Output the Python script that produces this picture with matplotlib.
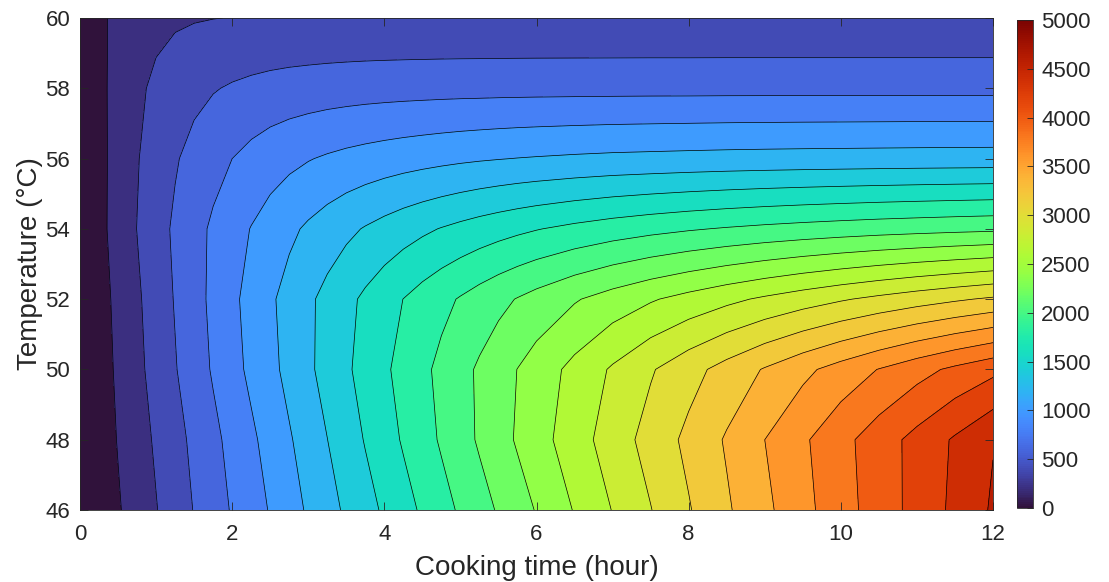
import numpy as np
import matplotlib
matplotlib.use("Agg")
import matplotlib.pyplot as plt
from matplotlib.colors import Normalize
from matplotlib.cm import ScalarMappable

plt.rcParams['font.family'] = ['Liberation Sans', 'DejaVu Sans']

# ---- data ----
t_hours = [0, 0.25, 0.5, 0.75, 1, 1.25, 1.5, 1.75, 2, 2.25, 2.5, 2.75, 3,
           3.25, 3.5, 3.75, 4, 4.25, 4.5, 4.75, 5, 5.25, 5.5, 5.75, 6,
           6.5, 7, 7.5, 8, 8.5, 9, 9.5, 10, 10.5, 11, 11.5, 12]
temps = [46, 48, 50, 52, 54, 56, 58, 60]

v46 = [0, 85, 182, 285, 391, 500, 608, 712, 816, 915, 1013, 1119, 1225,
       1328, 1431, 1530, 1628, 1728, 1828, 1928, 2027, 2123, 2219, 2316, 2412,
       2612, 2807, 2993, 3185, 3374, 3554, 3740, 3919, 4093, 4267, 4444, 4625]
v48 = [0, 100, 209, 317, 426, 535, 643, 751, 858, 964, 1070, 1180, 1289,
       1398, 1506, 1612, 1717, 1820, 1922, 2023, 2124, 2224, 2324, 2421, 2517,
       2708, 2895, 3074, 3248, 3421, 3600, 3769, 3939, 4103, 4263, 4425, 4590]
v50 = [0, 114, 229, 351, 471, 588, 705, 820, 935, 1042, 1147, 1256, 1365,
       1468, 1570, 1670, 1768, 1863, 1956, 2048, 2138, 2228, 2316, 2403, 2488,
       2658, 2825, 2981, 3129, 3274, 3416, 3551, 3681, 3807, 3928, 4043, 4150]
v52 = [0, 122, 248, 370, 494, 612, 728, 844, 958, 1066, 1170, 1270, 1365,
       1458, 1548, 1637, 1722, 1802, 1877, 1948, 2016, 2083, 2148, 2210, 2270,
       2382, 2485, 2580, 2668, 2752, 2832, 2908, 2980, 3048, 3113, 3173, 3230]
v54 = [0, 143, 278, 403, 521, 631, 735, 831, 922, 1007, 1086, 1160, 1230,
       1295, 1357, 1414, 1467, 1518, 1565, 1609, 1650, 1689, 1725, 1759, 1791,
       1848, 1899, 1943, 1982, 2016, 2046, 2072, 2095, 2116, 2133, 2149, 2163]
v56 = [0, 143, 272, 388, 492, 582, 662, 734, 800, 858, 910, 953, 990,
       1022, 1050, 1074, 1096, 1116, 1134, 1151, 1167, 1181, 1193, 1204, 1213,
       1229, 1242, 1250, 1258, 1265, 1270, 1274, 1277, 1280, 1283, 1285, 1287]
v58 = [0, 149, 268, 363, 439, 500, 549, 588, 619, 644, 665, 681, 693,
       704, 712, 719, 724, 728, 731, 734, 736, 737, 739, 740, 741,
       742, 743, 744, 744, 745, 745, 745, 745, 745, 745, 745, 745]
v60 = [0, 156, 253, 313, 350, 374, 388, 397, 403, 406, 408, 410, 411,
       411, 412, 412, 412, 412, 412, 412, 412, 412, 412, 412, 412,
       412, 412, 412, 412, 412, 412, 412, 412, 412, 412, 412, 412]

levels = list(range(0, 5001, 200))
cbar_ticks = list(range(0, 5001, 500))
x_ticks = list(range(0, 13, 2))
y_ticks = list(range(46, 61, 2))

# ---- plot ----
Z = np.array([v46, v48, v50, v52, v54, v56, v58, v60], dtype=float)
cmap = plt.get_cmap('turbo')
norm = Normalize(vmin=0, vmax=5000)
fill_colors = [cmap(norm(l)) for l in levels[:-1]]

W, H = 1109, 582
fig = plt.figure(figsize=(W / 100, H / 100), dpi=100)
ax = fig.add_axes([80 / W, (H - 510) / H, 913 / W, 492 / H])

ax.contourf(t_hours, temps, Z, levels=levels, colors=fill_colors)
ax.contour(t_hours, temps, Z, levels=levels[1:], colors='black', linewidths=0.5)

ax.set_xlim(0, 12)
ax.set_ylim(46, 60)
ax.set_xticks(x_ticks)
ax.set_yticks(y_ticks)
tc = '#262626'
ax.tick_params(direction='in', top=True, right=True, length=6, width=0.6,
               colors=tc, labelsize=16, pad=7)
ax.tick_params(axis='x', pad=10)
for s in ax.spines.values():
    s.set_color(tc)
    s.set_linewidth(0.6)
ax.set_xlabel('Cooking time (hour)', fontsize=20, color=tc, labelpad=7)
ax.set_ylabel('Temperature (°C)', fontsize=20, color=tc, labelpad=2)

cax = fig.add_axes([1017 / W, (H - 508) / H, 16 / W, 488 / H])
sm = ScalarMappable(norm=norm, cmap=cmap)
cb = fig.colorbar(sm, cax=cax, ticks=cbar_ticks)
cb.outline.set_edgecolor(tc)
cb.outline.set_linewidth(0.6)
cax.tick_params(direction='in', length=4, width=0.6, colors=tc, labelsize=16, pad=6)

fig.savefig('out.png', dpi=100)
